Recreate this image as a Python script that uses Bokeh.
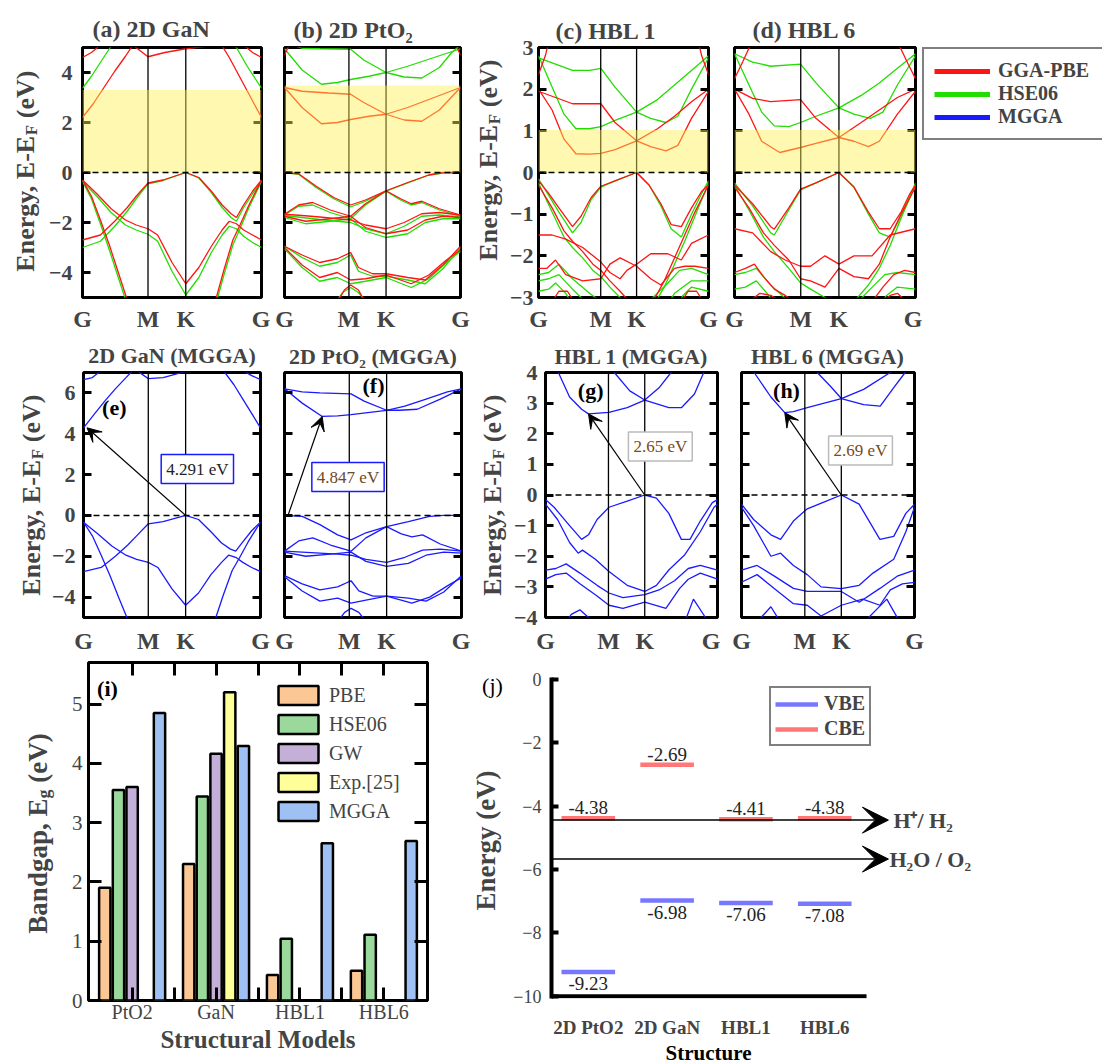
import math
from bokeh.plotting import figure
from bokeh.layouts import column, row
from bokeh.models import (Range1d, FixedTicker, LinearAxis, Span, BoxAnnotation,
                          Label, Legend, LegendItem, Arrow, VeeHead)
from bokeh.embed import file_html
from bokeh.resources import INLINE
from bokeh.core.properties import value

FONT = "Liberation Serif"
RED = "#ff1414"
GREEN = "#22dd00"
BLUE = "#1a1aff"
YELLOW = "#ffef4f"

# ---------------------------------------------------------------- data
# fractional distance along the G-M-K-G path
KPATH = [0, 0.366, 0.577, 1]
KLABELS = ["G", "M", "K", "G"]

# bands as (k, E - E_F [eV]) points
GAN_PBE = [
    [(0, 2.2), (0.06, 2.75), (0.12, 3.4), (0.18, 4.05), (0.24, 4.65), (0.3, 5.3), (0.45, 6.2), (0.65, 6.2), (0.76, 5.3), (0.82, 4.6), (0.88, 3.8), (0.94, 3.0), (1, 2.2)],
    [(0, 4.6), (0.05, 4.8), (0.1, 5.1), (0.28, 5.1), (0.366, 4.63), (0.46, 4.8), (0.577, 4.95), (0.75, 5.1), (0.9, 5.1), (0.95, 4.8), (1, 4.6)],
    [(0, -2.7), (0.1, -2.5), (0.18, -1.95), (0.25, -1.4), (0.3, -0.95), (0.366, -0.42), (0.45, -0.3), (0.577, 0.0), (0.65, -0.2), (0.72, -0.75), (0.78, -1.3), (0.83, -1.65), (0.86, -1.8), (0.9, -1.3), (0.95, -0.75), (1, -0.3)],
    [(0, -0.3), (0.08, -0.85), (0.16, -1.45), (0.24, -1.9), (0.3, -2.1), (0.366, -2.25), (0.42, -2.5), (0.5, -3.6), (0.577, -4.45), (0.65, -3.8), (0.72, -2.95), (0.78, -2.3), (0.82, -1.95), (0.86, -2.05), (0.9, -2.3), (0.95, -2.5), (1, -2.7)],
    [(0, -0.3), (0.05, -0.95), (0.1, -1.9), (0.15, -2.9), (0.2, -4.0), (0.25, -5.1), (0.3, -6.2), (0.7, -6.2), (0.74, -5.2), (0.79, -3.9), (0.84, -2.7), (0.88, -2.1), (0.93, -1.3), (1, -0.3)],
]
GAN_HSE = [
    [(0, 3.37), (0.05, 3.85), (0.1, 4.4), (0.15, 4.95), (0.2, 5.5), (0.4, 6.5), (0.7, 6.5), (0.82, 5.6), (0.86, 5.0), (0.92, 4.25), (0.97, 3.7), (1, 3.37)],
    [(0, -3.0), (0.1, -2.75), (0.18, -2.15), (0.25, -1.55), (0.3, -1.05), (0.366, -0.45), (0.45, -0.32), (0.577, 0.0), (0.65, -0.22), (0.72, -0.8), (0.78, -1.4), (0.83, -1.8), (0.86, -1.95), (0.9, -1.4), (0.95, -0.85), (1, -0.35)],
    [(0, -0.35), (0.08, -0.95), (0.16, -1.6), (0.24, -2.1), (0.3, -2.3), (0.366, -2.47), (0.42, -2.75), (0.5, -3.95), (0.577, -4.9), (0.65, -4.2), (0.72, -3.2), (0.78, -2.5), (0.82, -2.15), (0.86, -2.25), (0.9, -2.55), (0.95, -2.8), (1, -3.0)],
    [(0, -0.35), (0.05, -1.05), (0.1, -2.05), (0.15, -3.1), (0.2, -4.2), (0.25, -5.3), (0.3, -6.4), (0.7, -6.4), (0.74, -5.4), (0.79, -4.1), (0.84, -2.9), (0.88, -2.25), (0.93, -1.4), (1, -0.35)],
]
GAN_MGGA = [
    [(0, 4.291), (0.06, 4.95), (0.12, 5.6), (0.18, 6.2), (0.24, 6.75), (0.29, 7.2), (0.45, 8.2), (0.65, 8.2), (0.79, 7.1), (0.85, 6.4), (0.9, 5.7), (0.95, 5.0), (1, 4.291)],
    [(0, 6.65), (0.05, 6.75), (0.1, 7.1), (0.3, 7.1), (0.366, 6.7), (0.45, 6.75), (0.577, 7.05), (0.9, 7.1), (0.95, 6.85), (1, 6.65)],
    [(0, -2.75), (0.1, -2.55), (0.18, -2.0), (0.25, -1.45), (0.3, -1.0), (0.366, -0.41), (0.45, -0.3), (0.577, 0.0), (0.65, -0.2), (0.72, -0.8), (0.78, -1.35), (0.83, -1.65), (0.86, -1.75), (0.9, -1.3), (0.95, -0.75), (1, -0.33)],
    [(0, -0.33), (0.08, -0.9), (0.16, -1.5), (0.24, -1.95), (0.3, -2.15), (0.366, -2.3), (0.42, -2.55), (0.5, -3.6), (0.577, -4.4), (0.65, -3.8), (0.72, -2.9), (0.78, -2.3), (0.82, -1.95), (0.86, -2.05), (0.9, -2.3), (0.95, -2.55), (1, -2.75)],
    [(0, -0.33), (0.05, -1.0), (0.1, -1.95), (0.15, -2.95), (0.2, -4.05), (0.25, -5.1), (0.3, -6.2), (0.7, -6.2), (0.74, -5.2), (0.79, -3.9), (0.84, -2.7), (0.88, -2.1), (0.93, -1.3), (1, -0.33)],
]

PTO2_PBE = [
    [(0, 3.4), (0.1, 2.6), (0.21, 1.95), (0.3, 2.0), (0.376, 2.12), (0.48, 2.25), (0.577, 2.33), (0.7, 2.6), (0.85, 3.0), (1, 3.4)],
    [(0, 3.4), (0.1, 3.25), (0.25, 3.18), (0.376, 3.13), (0.45, 2.8), (0.577, 2.33), (0.68, 2.1), (0.78, 2.05), (0.88, 2.5), (1, 3.4)],
    [(0, 4.7), (0.04, 5.3), (0.5, 6.0), (0.96, 5.3), (1, 4.7)],
    [(0, 0), (0.08, -0.05), (0.18, -0.55), (0.28, -1.0), (0.376, -1.3), (0.46, -1.1), (0.577, -0.73), (0.66, -1.05), (0.72, -1.25), (0.78, -1.15), (0.88, -1.45), (1, -1.7)],
    [(0, -1.67), (0.08, -1.3), (0.16, -1.2), (0.26, -1.5), (0.376, -1.75), (0.46, -1.25), (0.577, -0.73), (0.7, -0.4), (0.82, -0.1), (0.9, 0), (1, 0)],
    [(0, -1.67), (0.1, -1.72), (0.2, -1.78), (0.3, -1.85), (0.376, -1.9), (0.46, -2.1), (0.577, -2.25), (0.68, -2.0), (0.78, -1.65), (0.88, -1.6), (1, -1.7)],
    [(0, -1.75), (0.12, -1.95), (0.26, -1.85), (0.376, -1.75), (0.46, -2.2), (0.577, -2.45), (0.7, -2.3), (0.8, -1.9), (0.9, -1.75), (1, -1.8)],
    [(0, -2.95), (0.1, -3.3), (0.2, -3.6), (0.3, -3.45), (0.376, -3.2), (0.42, -3.8), (0.5, -4.05), (0.577, -4.05), (0.7, -4.2), (0.8, -4.3), (0.9, -3.7), (1, -2.95)],
    [(0, -3.0), (0.1, -3.7), (0.2, -4.2), (0.3, -4.0), (0.376, -4.3), (0.46, -4.25), (0.577, -4.1), (0.72, -4.45), (0.82, -4.1), (0.92, -3.5), (1, -3.1)],
    [(0.3, -5.2), (0.34, -4.7), (0.376, -4.5), (0.42, -4.7), (0.46, -5.2)],
]
PTO2_HSE = [
    [(0, 4.95), (0.1, 4.1), (0.21, 3.53), (0.3, 3.6), (0.376, 3.72), (0.48, 3.85), (0.577, 4.0), (0.7, 4.25), (0.85, 4.6), (1, 4.95)],
    [(0, 5.2), (0.1, 4.97), (0.2, 4.95), (0.376, 4.93), (0.45, 4.5), (0.577, 4.0), (0.68, 3.82), (0.78, 3.78), (0.88, 4.2), (0.95, 4.8), (1, 5.1)],
    [(0, 0), (0.08, -0.07), (0.18, -0.6), (0.28, -1.05), (0.376, -1.38), (0.46, -1.15), (0.577, -0.75), (0.66, -1.1), (0.72, -1.3), (0.78, -1.2), (0.88, -1.5), (1, -1.75)],
    [(0, -1.7), (0.08, -1.35), (0.16, -1.3), (0.26, -1.6), (0.376, -1.85), (0.46, -1.3), (0.577, -0.75), (0.7, -0.42), (0.82, -0.1), (0.9, -0.02), (1, 0)],
    [(0, -1.72), (0.1, -1.8), (0.2, -1.88), (0.3, -1.95), (0.376, -2.0), (0.46, -2.25), (0.577, -2.45), (0.68, -2.15), (0.78, -1.75), (0.88, -1.7), (1, -1.78)],
    [(0, -1.8), (0.12, -2.05), (0.26, -1.95), (0.376, -1.85), (0.46, -2.35), (0.577, -2.6), (0.7, -2.45), (0.8, -2.0), (0.9, -1.85), (1, -1.85)],
    [(0, -2.95), (0.1, -3.4), (0.2, -3.75), (0.3, -3.6), (0.376, -3.3), (0.42, -3.95), (0.5, -4.15), (0.577, -4.15), (0.7, -4.3), (0.8, -4.45), (0.9, -3.85), (1, -3.0)],
    [(0, -3.05), (0.1, -3.8), (0.2, -4.35), (0.3, -4.2), (0.376, -4.45), (0.46, -4.35), (0.577, -4.2), (0.72, -4.6), (0.82, -4.25), (0.92, -3.6), (1, -3.15)],
    [(0.28, -5.3), (0.33, -4.8), (0.376, -4.6), (0.42, -4.8), (0.48, -5.3)],
]
PTO2_MGGA = [
    [(0, 6.2), (0.1, 6.05), (0.2, 6.0), (0.376, 5.95), (0.45, 5.6), (0.577, 5.15), (0.65, 5.15), (0.75, 5.2), (0.88, 5.7), (1, 6.2)],
    [(0, 6.2), (0.1, 5.5), (0.213, 4.847), (0.3, 4.88), (0.376, 4.94), (0.577, 5.15), (0.68, 5.35), (0.8, 5.7), (0.92, 6.05), (1, 6.2)],
    [(0, 0), (0.1, -0.05), (0.2, -0.45), (0.3, -0.95), (0.376, -1.2), (0.46, -0.85), (0.577, -0.55), (0.66, -0.9), (0.72, -1.05), (0.78, -0.95), (0.88, -1.4), (1, -1.75)],
    [(0, -1.75), (0.08, -1.25), (0.16, -1.1), (0.26, -1.45), (0.376, -1.75), (0.46, -1.1), (0.577, -0.55), (0.7, -0.3), (0.82, -0.05), (0.9, 0), (1, 0)],
    [(0, -1.75), (0.1, -1.8), (0.2, -1.85), (0.3, -1.9), (0.376, -1.95), (0.46, -2.15), (0.577, -2.3), (0.68, -2.05), (0.78, -1.7), (0.88, -1.65), (1, -1.75)],
    [(0, -1.8), (0.12, -2.0), (0.26, -1.9), (0.376, -1.8), (0.46, -2.25), (0.577, -2.5), (0.7, -2.35), (0.8, -1.95), (0.9, -1.8), (1, -1.85)],
    [(0, -2.95), (0.1, -3.35), (0.2, -3.65), (0.3, -3.5), (0.376, -3.2), (0.42, -3.7), (0.5, -3.95), (0.577, -3.95), (0.7, -4.05), (0.8, -4.2), (0.9, -3.75), (1, -2.95)],
    [(0, -3.0), (0.1, -3.7), (0.2, -4.2), (0.3, -4.05), (0.376, -4.3), (0.46, -4.15), (0.577, -3.95), (0.72, -4.3), (0.82, -4.0), (0.92, -3.45), (1, -3.05)],
    [(0.3, -5.2), (0.34, -4.75), (0.376, -4.55), (0.42, -4.75), (0.46, -5.2)],
]

HBL1_PBE = [
    [(0, 2.0), (0.08, 1.5), (0.15, 0.8), (0.22, 0.45), (0.3, 0.44), (0.367, 0.46), (0.45, 0.55), (0.577, 0.76), (0.7, 1.05), (0.8, 1.35), (0.9, 1.7), (1, 2.0)],
    [(0, 1.95), (0.1, 1.8), (0.2, 1.65), (0.3, 1.65), (0.367, 1.65), (0.45, 1.2), (0.577, 0.76), (0.66, 0.62), (0.75, 0.52), (0.82, 0.65), (0.9, 1.3), (1, 1.95)],
    [(0, 2.35), (0.04, 2.8), (0.07, 3.3), (0.5, 4.0), (0.93, 3.3), (0.96, 2.8), (1, 2.35)],
    [(0, -0.2), (0.06, -0.5), (0.12, -0.85), (0.2, -1.3), (0.25, -1.05), (0.31, -0.6), (0.367, -0.33), (0.45, -0.2), (0.577, 0), (0.65, -0.3), (0.72, -0.75), (0.78, -1.25), (0.84, -1.3), (0.9, -0.85), (0.96, -0.45), (1, -0.3)],
    [(0, -0.3), (0.08, -0.85), (0.15, -1.4), (0.2, -1.65), (0.26, -1.9), (0.32, -2.2), (0.367, -2.35), (0.42, -2.6), (0.48, -2.85), (0.577, -3.3), (0.66, -3.2), (0.74, -2.6), (0.8, -2.05), (0.86, -1.5), (0.92, -0.95), (1, -0.3)],
    [(0, -1.5), (0.08, -1.5), (0.16, -1.6), (0.26, -1.8), (0.367, -2.15), (0.42, -2.4), (0.48, -2.55), (0.52, -2.35), (0.577, -2.2), (0.66, -1.95), (0.76, -1.95), (0.84, -2.1), (0.9, -1.7), (1, -1.5)],
    [(0, -2.3), (0.05, -2.3), (0.1, -2.1), (0.16, -2.45), (0.26, -2.6), (0.367, -2.55), (0.42, -2.2), (0.48, -2.05), (0.577, -2.25), (0.66, -2.55), (0.72, -2.7), (0.8, -2.3), (0.86, -2.25), (0.92, -2.25), (1, -2.3)],
    [(0.08, -3.1), (0.12, -2.85), (0.17, -2.85), (0.21, -3.1), (0.5, -3.6), (0.84, -3.1), (0.88, -2.85), (0.93, -2.85), (0.97, -3.1)],
]
HBL1_HSE = [
    [(0, 2.8), (0.08, 2.05), (0.15, 1.4), (0.22, 1.05), (0.3, 1.05), (0.367, 1.1), (0.45, 1.25), (0.577, 1.45), (0.7, 1.75), (0.8, 2.1), (0.9, 2.45), (1, 2.8)],
    [(0, 2.75), (0.1, 2.6), (0.2, 2.45), (0.3, 2.45), (0.367, 2.5), (0.45, 2.05), (0.577, 1.45), (0.66, 1.3), (0.75, 1.2), (0.82, 1.35), (0.9, 2.0), (1, 2.75)],
    [(0, -0.15), (0.06, -0.55), (0.12, -0.95), (0.2, -1.45), (0.25, -1.2), (0.31, -0.65), (0.367, -0.35), (0.45, -0.2), (0.577, 0), (0.65, -0.3), (0.72, -0.8), (0.78, -1.35), (0.84, -1.55), (0.9, -1.0), (0.96, -0.5), (1, -0.2)],
    [(0, -0.25), (0.08, -0.95), (0.15, -1.55), (0.2, -1.8), (0.26, -2.05), (0.32, -2.35), (0.367, -2.5), (0.42, -2.75), (0.48, -3.0), (0.577, -3.4), (0.66, -3.3), (0.74, -2.75), (0.8, -2.2), (0.86, -1.65), (0.92, -1.05), (1, -0.25)],
    [(0, -2.45), (0.06, -2.4), (0.12, -2.2), (0.2, -2.55), (0.3, -2.9), (0.367, -3.1), (0.45, -3.3), (0.577, -3.2), (0.66, -3.05), (0.75, -2.7), (0.83, -2.35), (0.9, -2.3), (1, -2.45)],
    [(0, -2.6), (0.06, -2.55), (0.12, -2.45), (0.2, -2.8), (0.3, -3.2), (0.367, -3.5), (0.577, -3.6), (0.72, -3.4), (0.8, -2.9), (0.9, -2.6), (1, -2.6)],
    [(0, -2.85), (0.06, -2.8), (0.1, -2.65), (0.16, -2.9), (0.22, -3.3), (0.5, -3.8), (0.8, -3.3), (0.85, -2.95), (0.9, -2.75), (1, -2.85)],
]
HBL1_MGGA = [
    [(0.05, 4.4), (0.075, 4.0), (0.14, 3.2), (0.21, 2.8), (0.25, 2.65), (0.369, 2.7), (0.475, 2.85), (0.577, 3.1), (0.66, 3.5), (0.73, 4.0), (0.78, 4.4)],
    [(0.37, 4.3), (0.4, 4.0), (0.49, 3.4), (0.577, 3.1), (0.717, 2.85), (0.79, 2.85), (0.866, 3.3), (0.92, 4.0), (0.95, 4.4)],
    [(0, -0.15), (0.05, -0.4), (0.14, -1.0), (0.21, -1.45), (0.25, -1.3), (0.3, -0.8), (0.369, -0.4), (0.475, -0.2), (0.577, 0), (0.645, -0.1), (0.717, -0.6), (0.79, -1.45), (0.84, -1.45), (0.9, -0.85), (0.97, -0.25), (1, -0.15)],
    [(0, -0.3), (0.07, -0.8), (0.14, -1.55), (0.19, -1.9), (0.215, -1.8), (0.29, -2.1), (0.369, -2.5), (0.475, -2.95), (0.577, -3.15), (0.645, -2.95), (0.717, -2.45), (0.81, -1.95), (0.9, -1.2), (0.98, -0.4), (1, -0.3)],
    [(0, -2.45), (0.06, -2.4), (0.12, -2.25), (0.2, -2.55), (0.3, -2.95), (0.369, -3.2), (0.45, -3.35), (0.577, -3.25), (0.66, -3.1), (0.75, -2.8), (0.83, -2.4), (0.9, -2.3), (1, -2.45)],
    [(0, -2.75), (0.06, -2.6), (0.12, -2.55), (0.2, -2.9), (0.3, -3.3), (0.369, -3.6), (0.45, -3.7), (0.577, -3.5), (0.7, -3.7), (0.78, -3.05), (0.83, -2.75), (0.9, -2.55), (1, -2.75)],
    [(0.1, -4.3), (0.15, -3.9), (0.2, -3.75), (0.25, -4.0), (0.3, -4.3), (0.55, -5.0), (0.8, -4.3), (0.86, -3.4), (0.93, -4.0), (0.97, -4.3)],
]

HBL6_PBE = [
    [(0, 2.0), (0.08, 1.4), (0.15, 0.75), (0.25, 0.48), (0.365, 0.6), (0.45, 0.7), (0.577, 0.84), (0.7, 1.2), (0.8, 1.5), (0.9, 1.8), (1, 2.0)],
    [(0, 2.0), (0.1, 1.78), (0.2, 1.7), (0.365, 1.75), (0.45, 1.3), (0.577, 0.84), (0.66, 0.75), (0.74, 0.62), (0.8, 0.75), (0.9, 1.4), (1, 1.95)],
    [(0, 2.25), (0.045, 2.65), (0.087, 3.05), (0.5, 4.0), (0.91, 3.05), (0.96, 2.6), (1, 2.25)],
    [(0, -0.3), (0.1, -0.75), (0.2, -1.3), (0.22, -1.36), (0.3, -0.85), (0.365, -0.4), (0.45, -0.25), (0.577, 0), (0.66, -0.35), (0.74, -0.95), (0.8, -1.35), (0.86, -1.35), (0.92, -0.95), (0.97, -0.5), (1, -0.3)],
    [(0, -1.35), (0.1, -1.45), (0.2, -1.9), (0.28, -2.1), (0.365, -2.25), (0.42, -2.25), (0.5, -2.0), (0.577, -2.2), (0.66, -2.0), (0.76, -2.0), (0.86, -1.5), (1, -1.35)],
    [(0, -0.35), (0.08, -0.85), (0.16, -1.45), (0.22, -1.75), (0.3, -2.1), (0.365, -2.55), (0.42, -2.6), (0.5, -2.75), (0.577, -2.3), (0.66, -2.5), (0.74, -2.55), (0.8, -2.2), (0.86, -1.55), (0.92, -1.0), (1, -0.35)],
    [(0, -2.4), (0.06, -2.3), (0.11, -2.2), (0.16, -2.5), (0.22, -2.8), (0.28, -2.95), (0.33, -3.1), (0.5, -3.6), (0.76, -3.1), (0.82, -2.75), (0.88, -2.45), (0.94, -2.35), (1, -2.4)],
    [(0.08, -3.1), (0.14, -2.9), (0.2, -2.95), (0.26, -3.1), (0.5, -3.5), (0.82, -3.1), (0.86, -2.95), (0.9, -2.9), (0.95, -3.1)],
]
HBL6_HSE = [
    [(0, 2.85), (0.08, 2.1), (0.15, 1.45), (0.22, 1.12), (0.3, 1.1), (0.365, 1.2), (0.45, 1.35), (0.577, 1.55), (0.7, 1.85), (0.8, 2.15), (0.9, 2.5), (1, 2.85)],
    [(0, 2.85), (0.1, 2.65), (0.2, 2.55), (0.365, 2.6), (0.45, 2.15), (0.577, 1.55), (0.66, 1.4), (0.75, 1.3), (0.82, 1.45), (0.9, 2.1), (1, 2.8)],
    [(0, -0.25), (0.1, -0.8), (0.2, -1.45), (0.22, -1.5), (0.3, -0.9), (0.365, -0.42), (0.45, -0.25), (0.577, 0), (0.66, -0.35), (0.74, -1.0), (0.8, -1.45), (0.86, -1.55), (0.92, -1.05), (0.97, -0.55), (1, -0.25)],
    [(0, -0.3), (0.08, -0.9), (0.16, -1.55), (0.22, -1.9), (0.3, -2.3), (0.365, -2.65), (0.42, -2.8), (0.5, -3.0), (0.577, -3.2), (0.66, -3.1), (0.74, -2.7), (0.8, -2.3), (0.86, -1.75), (0.92, -1.1), (1, -0.3)],
    [(0, -2.45), (0.06, -2.4), (0.12, -2.3), (0.2, -2.7), (0.3, -3.1), (0.365, -3.3), (0.45, -3.3), (0.577, -3.1), (0.66, -3.2), (0.75, -2.8), (0.83, -2.45), (0.9, -2.4), (1, -2.45)],
    [(0, -2.8), (0.06, -2.75), (0.12, -2.6), (0.18, -2.9), (0.25, -3.3), (0.5, -3.8), (0.78, -3.3), (0.84, -2.95), (0.9, -2.75), (1, -2.8)],
]
HBL6_MGGA = [
    [(0.05, 4.4), (0.073, 4.0), (0.17, 3.2), (0.25, 2.69), (0.3, 2.72), (0.38, 2.85), (0.577, 3.15), (0.706, 3.45), (0.86, 4.0), (0.9, 4.4)],
    [(0.4, 4.4), (0.438, 4.0), (0.514, 3.55), (0.577, 3.15), (0.706, 2.95), (0.802, 2.9), (0.879, 3.5), (0.946, 4.0), (0.97, 4.4)],
    [(0, -0.3), (0.07, -0.8), (0.17, -1.3), (0.226, -1.45), (0.3, -0.85), (0.38, -0.45), (0.49, -0.2), (0.577, 0), (0.68, -0.3), (0.8, -1.45), (0.88, -1.35), (0.95, -0.6), (1, -0.3)],
    [(0, -0.4), (0.07, -1.0), (0.17, -2.0), (0.226, -1.9), (0.3, -2.3), (0.38, -2.6), (0.46, -3.0), (0.577, -3.06), (0.68, -2.95), (0.76, -2.55), (0.88, -2.1), (0.95, -1.2), (1, -0.4)],
    [(0, -2.45), (0.09, -2.3), (0.19, -2.65), (0.3, -3.05), (0.38, -3.15), (0.48, -3.15), (0.577, -3.15), (0.68, -3.5), (0.8, -3.05), (0.9, -2.65), (1, -2.45)],
    [(0, -2.85), (0.09, -2.6), (0.2, -3.1), (0.3, -3.55), (0.38, -3.6), (0.46, -3.95), (0.577, -3.6), (0.7, -3.4), (0.8, -3.6), (0.86, -3.1), (0.93, -2.9), (1, -2.85)],
    [(0.08, -4.2), (0.17, -3.65), (0.23, -4.2), (0.45, -5.0), (0.7, -4.2), (0.84, -3.4), (0.92, -4.2)],
]

# shaded HSE06 gap region (eV)
SHADE_GAN = 3.3
SHADE_PTO2 = 3.48
SHADE_HBL1 = 1.02
SHADE_HBL6 = 1.02

# MGGA gaps and the k positions of VBM / CBM
MGGA_GAP = {"GaN": 4.291, "PtO2": 4.847, "HBL1": 2.65, "HBL6": 2.69}
VBM_K = {"GaN": 0.577, "PtO2": 0.02, "HBL1": 0.577, "HBL6": 0.577}
CBM_K = {"GaN": 0.02, "PtO2": 0.213, "HBL1": 0.25, "HBL6": 0.25}

# bandgap bar chart
MODELS = ["PtO2", "GaN", "HBL1", "HBL6"]
EG_PBE = [1.9, 2.3, 0.43, 0.5]
EG_HSE = [3.55, 3.44, 1.04, 1.11]
EG_GW = [3.6, 4.16, None, None]
EG_EXP = [None, 5.2, None, None]
EG_MGGA = [4.847, 4.291, 2.65, 2.69]

# band edges vs vacuum
STRUCTS = ["2D PtO2", "2D GaN", "HBL1", "HBL6"]
CBE = [-4.38, -2.69, -4.41, -4.38]
VBE = [-9.23, -6.98, -7.06, -7.08]
REDOX_H = -4.44
REDOX_O = -5.67

# ---------------------------------------------------------------- helpers
TB = {' ': 250, ',': 250, '-': 333, '(': 333, ')': 333, 'E': 667, 'n': 556,
      'e': 444, 'r': 444, 'g': 500, 'y': 500, 'F': 611, 'V': 722, 'B': 667,
      'a': 500, 'd': 556, 'p': 556}


def text_w(s, size):
    return sum(TB.get(c, 500) for c in s) * size / 1000.0


def to_data(info, px, py):
    fl, ft, fw, fh, (x0, x1), (y0, y1) = info
    return (x0 + (px - fl) / fw * (x1 - x0), y1 - (py - ft) / fh * (y1 - y0))


def page_label(p, info, px, py, text, size, bold=True, align="center",
               baseline="middle", color="black", **kw):
    x, y = to_data(info, px, py)
    p.add_layout(Label(x=x, y=y, text=text, text_font=FONT,
                       text_font_size=f"{size}px",
                       text_font_style="bold" if bold else "normal",
                       text_align=align, text_baseline=baseline,
                       text_color=color, **kw))


def vertical_label(p, info, cx, cy, pieces):
    # pieces: (text, size, sideways shift, gap before); each piece is centred
    total = sum(text_w(t, s) + g for t, s, _, g in pieces)
    y = cy + total / 2
    for t, s, dx, g in pieces:
        y -= g
        w = text_w(t, s)
        x_d, y_d = to_data(info, cx + dx, y - w / 2)
        p.add_layout(Label(x=x_d, y=y_d, text=t, angle=math.pi / 2,
                           text_align="center", text_baseline="middle",
                           text_font=FONT, text_font_size=f"{s}px",
                           text_font_style="bold"))
        y -= w


def strip(x0, y0, w, h, bt=0, bb=0, bl=0, br=0):
    """Blank canvas for text beside a panel; its frame matches its row."""
    fw, fh = w - bl - br, h - bt - bb
    s = figure(width=w, height=h, x_range=Range1d(0, fw), y_range=Range1d(fh, 0),
               output_backend="svg", toolbar_location=None, min_border=0,
               min_border_left=bl, min_border_right=br, min_border_top=bt,
               min_border_bottom=bb, x_axis_location=None, y_axis_location=None,
               outline_line_color=None)
    s.grid.visible = False
    return s, (x0 + bl, y0 + bt, fw, fh, (0, fw), (fh, 0))


def style_tick_axis(ax, ticks, show, size=22, bold=True, standoff=8,
                    tick_len=8, tick_w=3):
    ax.ticker = FixedTicker(ticks=ticks)
    ax.axis_line_color = None
    ax.major_tick_in = tick_len
    ax.major_tick_out = 0
    ax.major_tick_line_width = tick_w
    ax.major_tick_line_color = "black"
    ax.minor_tick_line_color = None
    ax.major_label_text_font = FONT
    ax.major_label_text_font_style = "bold" if bold else "normal"
    if show:
        ax.major_label_text_font_size = f"{size}px"
        ax.major_label_standoff = standoff
    else:
        ax.major_label_overrides = {t: "" for t in ticks}
        ax.major_label_text_font_size = "0px"
        ax.major_label_standoff = 0


def band_panel(geom, yr, yticks, show_y, ystandoff, xstandoff, title, tsize,
               talign, toffset, tstandoff):
    x0, y0, w, h, bl, br, bt, bb = geom
    p = figure(width=w, height=h, x_range=Range1d(0, 1), y_range=Range1d(*yr),
               output_backend="svg", toolbar_location=None, title=title,
               min_border_left=bl, min_border_right=br, min_border_top=bt,
               min_border_bottom=bb)
    p.grid.visible = False
    p.outline_line_color = "black"
    p.outline_line_width = 3
    p.outline_line_alpha = 1.0
    t = p.title
    t.text_font = FONT
    t.text_font_size = f"{tsize}px"
    t.text_font_style = "bold"
    t.align = talign
    t.offset = toffset
    t.standoff = tstandoff
    xa = p.xaxis[0]
    xa.ticker = FixedTicker(ticks=KPATH)
    xa.major_label_overrides = dict(zip(KPATH, KLABELS))
    xa.axis_line_color = None
    xa.major_tick_line_color = None
    xa.minor_tick_line_color = None
    xa.major_label_text_font = FONT
    xa.major_label_text_font_size = "24px"
    xa.major_label_text_font_style = "bold"
    xa.major_label_standoff = xstandoff
    style_tick_axis(p.yaxis[0], yticks, show_y, standoff=ystandoff)
    right = LinearAxis()
    style_tick_axis(right, yticks, False)
    p.add_layout(right, "right")
    info = (x0 + bl, y0 + bt, w - bl - br, h - bt - bb, (0.0, 1.0), yr)
    return p, info


def draw_bands(p, bands, color, width=1.3):
    for band in bands:
        p.line([pt[0] for pt in band], [pt[1] for pt in band],
               line_color=color, line_width=width)


def decorate(p, shade=None):
    for k in KPATH[1:3]:
        p.add_layout(Span(location=k, dimension="height", line_color="black",
                          line_width=1.3))
    if shade is not None:
        p.add_layout(BoxAnnotation(bottom=0, top=shade, fill_color=YELLOW,
                                   fill_alpha=0.45, line_color=None))
    p.add_layout(Span(location=0, dimension="width", line_color="black",
                      line_width=1.5, line_dash="6 4"))


def gap_arrow(p, name):
    p.add_layout(Arrow(end=VeeHead(size=14, fill_color="black",
                                   line_color="black", line_width=1),
                       x_start=VBM_K[name], y_start=0,
                       x_end=CBM_K[name], y_end=MGGA_GAP[name],
                       line_color="black", line_width=1.2))


def gap_box(p, info, px, py, name, border, color):
    x, y = to_data(info, px, py)
    p.add_layout(Label(x=x, y=y, text=f"{MGGA_GAP[name]} eV", text_font=FONT,
                       text_font_size="17px", text_align="center",
                       text_baseline="middle", text_color=color,
                       background_fill_color="white", border_line_color=border,
                       border_line_width=1.5, padding=5))


ENERGY_PIECES = [("Energy, E-E", 26, 0, 0), ("F", 17, 6, 0), ("(eV)", 26, 0, 6.5)]

# ---------------------------------------------------------------- row 1: PBE / HSE06
R1H, R1T, R1B = 335, 47, 38
sa, isa = strip(0, 0, 44, R1H, R1T, R1B)
vertical_label(sa, isa, 25, 171, ENERGY_PIECES)

pa, ia = band_panel((44, 0, 226, R1H, 38, 9, R1T, R1B), (-5, 5), [-4, -2, 0, 2, 4],
                    True, 10, 2, "(a) 2D GaN", 24, "left", 10, 12)
draw_bands(pa, GAN_HSE, GREEN)
draw_bands(pa, GAN_PBE, RED)
decorate(pa, SHADE_GAN)

pb, ib = band_panel((270, 0, 200, R1H, 14, 10, R1T, R1B), (-5, 5), [-4, -2, 0, 2, 4],
                    False, 0, 2, "(b) 2D PtO\u2082", 24, "left", 9, 9)
draw_bands(pb, PTO2_HSE, GREEN)
draw_bands(pb, PTO2_PBE, RED)
decorate(pb, SHADE_PTO2)

sc, isc = strip(470, 0, 36, R1H, R1T, R1B)
vertical_label(sc, isc, 488, 160, ENERGY_PIECES)

pc, ic = band_panel((506, 0, 214, R1H, 25, 12, R1T, R1B), (-3, 3), [-3, -2, -1, 0, 1, 2, 3],
                    True, 5, 2, "(c)  HBL 1", 24, "left", 17, 7)
draw_bands(pc, HBL1_HSE, GREEN)
draw_bands(pc, HBL1_PBE, RED)
decorate(pc, SHADE_HBL1)

pd, idd = band_panel((720, 0, 202, R1H, 14, 7, R1T, R1B), (-3, 3), [-3, -2, -1, 0, 1, 2, 3],
                     False, 0, 2, "(d) HBL 6", 24, "left", 18, 10)
draw_bands(pd, HBL6_HSE, GREEN)
draw_bands(pd, HBL6_PBE, RED)
decorate(pd, SHADE_HBL6)

# method legend (key renderers hold a single undefined point, so only the keys show)
pl = figure(width=180, height=R1H, x_range=Range1d(0, 1), y_range=Range1d(0, 1),
            output_backend="svg", toolbar_location=None, min_border=0,
            min_border_top=R1T, min_border_bottom=R1B,
            x_axis_location=None, y_axis_location=None, outline_line_color=None)
pl.grid.visible = False
leg_items = []
for name, col in [("GGA-PBE", RED), ("HSE06", GREEN), ("MGGA", BLUE)]:
    r = pl.line(x=[float("nan")], y=[float("nan")], line_color=col, line_width=5)
    leg_items.append(LegendItem(label=name, renderers=[r]))
pl.add_layout(Legend(items=leg_items, location="top_left", padding=10, spacing=0,
                     glyph_width=56, glyph_height=22, label_standoff=8,
                     label_width=96, margin=0, border_line_color="black",
                     border_line_width=2.5, background_fill_color="white",
                     label_text_font=FONT, label_text_font_size="20px",
                     label_text_font_style="bold"))

# ---------------------------------------------------------------- row 2: MGGA
R2Y, R2H, R2T, R2B = 335, 321, 37, 39
se, ise = strip(0, R2Y, 48, R2H, R2T, R2B)
vertical_label(se, ise, 31, 495, ENERGY_PIECES)

pe, ie = band_panel((48, R2Y, 222, R2H, 34, 10, R2T, R2B), (-5, 7), [-4, -2, 0, 2, 4, 6],
                    True, 8, 4, "2D GaN (MGGA)", 22, "center", 0, 9)
draw_bands(pe, GAN_MGGA, BLUE)
decorate(pe)
gap_arrow(pe, "GaN")
gap_box(pe, ie, 196.5, 468.5, "GaN", "#1a1aff", "#222222")
page_label(pe, ie, 113, 407, "(e)", 22)

pf, iff = band_panel((270, R2Y, 200, R2H, 14, 9, R2T, R2B), (-5, 7), [-4, -2, 0, 2, 4, 6],
                     False, 0, 4, "2D PtO\u2082 (MGGA)", 22, "center", 0, 7)
draw_bands(pf, PTO2_MGGA, BLUE)
decorate(pf)
gap_arrow(pf, "PtO2")
gap_box(pf, iff, 347.5, 476.5, "PtO2", "#1a1aff", "#6b4a2a")
page_label(pf, iff, 373, 385, "(f)", 22)

sg, isg = strip(470, R2Y, 40, R2H, R2T, R2B)
vertical_label(sg, isg, 492, 495, ENERGY_PIECES)

pg, ig = band_panel((510, R2Y, 210, R2H, 28, 3, R2T, R2B), (-4, 4), [-4, -3, -2, -1, 0, 1, 2, 3, 4],
                    True, 8, 4, "HBL 1 (MGGA)", 22, "center", 0, 7)
draw_bands(pg, HBL1_MGGA, BLUE)
decorate(pg)
gap_arrow(pg, "HBL1")
gap_box(pg, ig, 657.5, 446, "HBL1", "#bbbbbb", "#7a4a20")
page_label(pg, ig, 585, 390, "(g)", 22)

ph, ih = band_panel((720, R2Y, 382, R2H, 21, 188, R2T, R2B), (-4, 4), [-4, -3, -2, -1, 0, 1, 2, 3, 4],
                    False, 0, 4, "HBL 6 (MGGA)", 22, "center", 0, 7)
draw_bands(ph, HBL6_MGGA, BLUE)
decorate(ph)
gap_arrow(ph, "HBL6")
gap_box(ph, ih, 860, 450, "HBL6", "#bbbbbb", "#7a4a20")
page_label(ph, ih, 786, 390, "(h)", 22)

# ---------------------------------------------------------------- (i) bandgap bars
R3Y, R3H, R3T, R3B = 656, 408, 6, 64
si, isi = strip(0, R3Y, 56, R3H, R3T, R3B)
vertical_label(si, isi, 37, 833, [("Bandgap, E", 27, 0, 0), ("g", 18, 6, 0), ("(eV)", 27, 0, 6.75)])

I_X = (-0.52, 3.52)
I_Y = (0, 5.7)
pi = figure(width=404, height=R3H, x_range=Range1d(*I_X), y_range=Range1d(*I_Y),
            output_backend="svg", toolbar_location=None, min_border_left=32,
            min_border_right=33, min_border_top=R3T, min_border_bottom=R3B)
ii = (88, R3Y + R3T, 339, R3H - R3T - R3B, I_X, I_Y)
pi.grid.visible = False
pi.outline_line_color = "black"
pi.outline_line_width = 3
SLOT = 0.163
series = [("PBE", EG_PBE, "#fbc794"), ("HSE06", EG_HSE, "#9ad89b"),
          ("GW", EG_GW, "#c4afd9"), ("Exp.[25]", EG_EXP, "#ffff99"),
          ("MGGA", EG_MGGA, "#9ec0f2")]
for j, (name, vals, col) in enumerate(series):
    xs = [g + (j - 2) * SLOT for g, v in enumerate(vals) if v is not None]
    tops = [v for v in vals if v is not None]
    pi.vbar(x=xs, top=tops, width=0.135, fill_color=col, line_color="black",
            line_width=2.5, legend_label=name)
bx = pi.xaxis[0]
bx.ticker = FixedTicker(ticks=[0, 1, 2, 3], minor_ticks=[0.5, 1.5, 2.5])
bx.major_label_overrides = dict(zip([0, 1, 2, 3], MODELS))
bx.axis_line_color = None
bx.major_tick_in = 13
bx.major_tick_out = 0
bx.minor_tick_in = 13
bx.minor_tick_out = 0
bx.major_tick_line_width = 3
bx.minor_tick_line_width = 3
bx.minor_tick_line_color = "black"
bx.major_label_text_font = FONT
bx.major_label_text_font_size = "20px"
bx.major_label_standoff = 0
bx.axis_label = "Structural Models"
bx.axis_label_text_font = FONT
bx.axis_label_text_font_size = "25px"
bx.axis_label_text_font_style = "bold"
bx.axis_label_standoff = 0
top_ax = LinearAxis(ticker=FixedTicker(ticks=[0, 1, 2, 3], minor_ticks=[0.5, 1.5, 2.5]))
top_ax.axis_line_color = None
top_ax.major_tick_in = 13
top_ax.major_tick_out = 0
top_ax.minor_tick_in = 13
top_ax.minor_tick_out = 0
top_ax.major_tick_line_width = 3
top_ax.minor_tick_line_width = 3
top_ax.major_label_overrides = {0: "", 1: "", 2: "", 3: ""}
top_ax.major_label_text_font_size = "0px"
top_ax.major_label_standoff = 0
pi.add_layout(top_ax, "above")
style_tick_axis(pi.yaxis[0], [0, 1, 2, 3, 4, 5], True, size=21, bold=False,
                standoff=6, tick_len=13)
ri = LinearAxis()
style_tick_axis(ri, [0, 1, 2, 3, 4, 5], False, tick_len=13)
pi.add_layout(ri, "right")
lg = pi.legend[0]
lg.location = (185, 177)
lg.padding = 0
lg.spacing = 5
lg.glyph_width = 50
lg.glyph_height = 24
lg.label_standoff = 6
lg.border_line_color = None
lg.background_fill_alpha = 0
lg.label_text_font = FONT
lg.label_text_font_size = "20px"
page_label(pi, ii, 107, 688, "(i)", 22)

# ---------------------------------------------------------------- (j) band edges
sj, isj = strip(460, R3Y, 50, R3H, R3T, R3B)
page_label(sj, isj, 492, 685, "(j)", 22, bold=False)
vertical_label(sj, isj, 485, 840, [("Energy (eV)", 27, 0, 0)])

J_X = (-0.467, 5.674)
J_Y = (-10.07, 0.06)
pj = figure(width=592, height=384, x_range=Range1d(*J_X), y_range=Range1d(*J_Y),
            output_backend="svg", toolbar_location=None, min_border_left=38,
            min_border_right=67, min_border_top=21, min_border_bottom=39)
ij = (548, 677, 487, 324, J_X, J_Y)
pj.grid.visible = False
pj.outline_line_color = None
jy = pj.yaxis[0]
jy.ticker = FixedTicker(ticks=[-10, -8, -6, -4, -2, 0])
jy.axis_line_width = 4
jy.major_tick_in = 7
jy.major_tick_out = 0
jy.major_tick_line_width = 4
jy.minor_tick_line_color = None
jy.major_label_text_font = FONT
jy.major_label_text_font_size = "18px"
jy.major_label_standoff = 10
jx = pj.xaxis[0]
jx.ticker = FixedTicker(ticks=[0, 1, 2, 3])
jx.major_label_overrides = dict(zip([0, 1, 2, 3], STRUCTS))
jx.axis_line_color = None
jx.major_tick_line_color = None
jx.minor_tick_line_color = None
jx.major_label_text_font = FONT
jx.major_label_text_font_size = "19px"
jx.major_label_text_font_style = "bold"
jx.major_label_standoff = 12

idx = list(range(len(STRUCTS)))
HALF = 0.34
# baseline of the energy axis, spanning the structures only
pj.segment(x0=[J_X[0]], y0=[-10], x1=[len(STRUCTS) - 0.47], y1=[-10],
           line_color="black", line_width=4)
pj.segment(x0=[i - HALF for i in idx], y0=VBE, x1=[i + HALF for i in idx], y1=VBE,
           line_color="#7777ff", line_width=4.5, legend_label="VBE")
pj.segment(x0=[i - HALF for i in idx], y0=CBE, x1=[i + HALF for i in idx], y1=CBE,
           line_color="#ff7777", line_width=4.5, legend_label="CBE")
pj.text(x=idx, y=CBE, text=[f"{v:.2f}" for v in CBE], text_align="center",
        text_baseline="bottom", y_offset=-4, text_font=value(FONT),
        text_font_size="19px", text_color="#222222")
pj.text(x=idx, y=VBE, text=[f"{v:.2f}" for v in VBE], text_align="center",
        text_baseline="top", y_offset=5, text_font=value(FONT),
        text_font_size="19px", text_color="#222222")
for lvl in (REDOX_H, REDOX_O):
    pj.add_layout(Arrow(end=VeeHead(size=26, fill_color="black", line_color="black"),
                        x_start=J_X[0], y_start=lvl, x_end=3.808, y_end=lvl,
                        line_color="black", line_width=1.5))
hx, _ = to_data(ij, 892, 0)
pj.add_layout(Label(x=hx, y=REDOX_H, text="H\u207a/ H\u2082", text_font=FONT,
                    text_font_size="22px", text_font_style="bold",
                    text_align="left", text_baseline="middle"))
pj.add_layout(Label(x=hx - 0.05, y=REDOX_O, text="H\u2082O / O\u2082", text_font=FONT,
                    text_font_size="22px", text_font_style="bold",
                    text_align="left", text_baseline="middle"))
lj = pj.legend[0]
lj.location = (218, 252)
lj.padding = 4
lj.spacing = 2
lj.glyph_width = 43
lj.glyph_height = 22
lj.label_standoff = 6
lj.border_line_color = "black"
lj.border_line_width = 2
lj.background_fill_color = "white"
lj.label_text_font = FONT
lj.label_text_font_size = "20px"
lj.label_text_font_style = "bold"

sj2, isj2 = strip(510, 1040, 592, 24, bl=38, br=67)
page_label(sj2, isj2, 706, 1052, "Structure", 21)

layout = column(
    row(sa, pa, pb, sc, pc, pd, pl),
    row(se, pe, pf, sg, pg, ph),
    row(si, pi, sj, column(pj, sj2)),
)
open("out.html", "w").write(file_html(layout, INLINE))
